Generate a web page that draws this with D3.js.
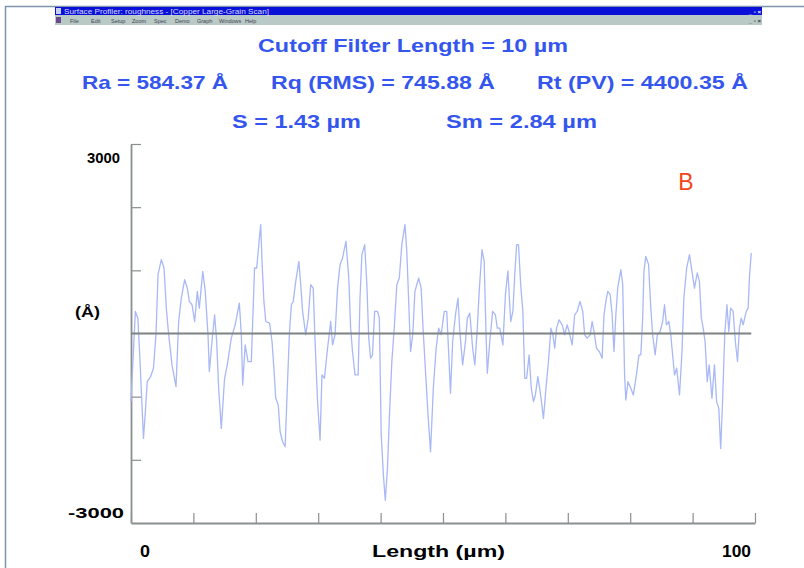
<!DOCTYPE html>
<html>
<head>
<meta charset="utf-8">
<script src="https://cdn.jsdelivr.net/npm/d3@7"></script>
<style>
  body { margin: 0; background: #fff; }
  svg { display: block; font-family: "Liberation Sans", Arial, sans-serif; }
</style>
</head>
<body>
<div id="profile"></div>
<script>
// profile trace, length (µm) and height (Å)
var lengths = [0, 0.7, 1.1, 1.45, 2.0, 2.3, 2.6, 3.15, 3.6, 4.0, 4.33, 4.86, 5.29, 5.7, 6.04, 6.57, 7.21, 7.64, 8.06, 8.6,
    9.03, 9.35, 9.78, 10.2, 10.63, 10.95, 11.5, 11.9, 12.34, 12.55, 12.98, 13.4, 13.73, 14.05, 14.47, 15.0, 15.43, 16.07, 16.7, 17.36,
    17.68, 17.9, 18.3, 18.75, 19.28, 19.8, 20.14, 20.78, 21.0, 21.3, 21.6, 22.2, 22.6, 22.9, 23.2, 23.6, 23.9, 24.3, 24.7, 25.05,
    25.4, 25.7, 26.0, 26.4, 26.9, 27.2, 27.5, 28.0, 28.4, 28.8, 29.2, 29.5, 29.9, 30.3, 30.6, 31.0, 31.5, 32.0, 32.3, 32.7,
    33.1, 33.5, 33.9, 34.45, 34.9, 35.2, 35.5, 35.9, 36.4, 36.7, 37.0, 37.45, 37.8, 38.1, 38.4, 38.7, 39.05, 39.5, 39.8, 40.1,
    40.45, 40.75, 41.1, 41.4, 41.8, 42.15, 42.6, 43.0, 43.4, 43.9, 44.2, 44.5, 44.8, 45.15, 45.5, 45.8, 46.1, 46.5, 46.8, 47.2,
    47.6, 48.0, 48.45, 48.9, 49.3, 49.7, 50.2, 50.6, 50.9, 51.2, 51.55, 52.0, 52.4, 52.7, 53.15, 53.6, 53.9, 54.3, 54.75, 55.1,
    55.5, 55.8, 56.25, 56.6, 56.9, 57.1, 57.5, 57.95, 58.4, 58.7, 59.1, 59.6, 60.0, 60.4, 60.85, 61.2, 61.5, 61.8, 62.1, 62.45,
    62.8, 63.1, 63.4, 63.8, 64.15, 64.5, 64.8, 65.2, 65.65, 66.1, 66.5, 66.9, 67.3, 67.6, 67.9, 68.2, 68.6, 69.1, 69.5, 69.9,
    70.2, 70.7, 71.1, 71.5, 71.95, 72.4, 72.7, 73.1, 73.6, 73.9, 74.2, 74.6, 75.05, 75.5, 75.8, 76.1, 76.4, 76.8, 77.1, 77.4,
    77.7, 78.0, 78.5, 78.8, 79.1, 79.3, 79.65, 80.1, 80.5, 81.0, 81.4, 81.7, 82.0, 82.2, 82.5, 82.95, 83.3, 83.6, 84.0, 84.35,
    84.8, 85.2, 85.5, 85.8, 86.2, 86.5, 86.8, 87.1, 87.45, 87.9, 88.3, 88.6, 89.05, 89.5, 89.9, 90.3, 90.75, 91.1, 91.4, 91.7,
    92.0, 92.35, 92.65, 93.1, 93.5, 93.85, 94.2, 94.5, 94.8, 95.15, 95.5, 95.8, 96.1, 96.5, 96.85, 97.2, 97.5, 97.8, 98.1, 98.6,
    98.9, 99.1, 99.4];
var heights = [-1080, 350, 240, -444, -1661, -1238, -762, -682, -550, -20, 931, 1169, 1037, 349, -20, -497, -841, 190, 561, 852,
    719, 508, 455, 190, 667, 402, 984, 667, -20, -603, -127, 296, -127, -868, -1502, -709, -497, -74, 138, 481,
    -20, -815, -180, -444, -444, 1037, 1037, 1725, 1143, 508, 190, 164, -127, -550, -1026, -1132, -1555, -1714, -1793, -868,
    32, 455, 508, 825, 1143, 772, 349, -20, 243, 772, 719, -127, -1079, -1688, -656, -709, -233, 190, -180, -20,
    719, 1090, 1196, 1460, 878, 85, -286, -656, -656, 561, 1248, 1407, 772, -74, -391, -339, 349, 349, 243, -1608,
    -2243, -2640, -2137, -1344, -444, 32, 772, 878, 1407, 1725, 1301, 508, -286, -20, 667, 772, 878, 719, 85, -603,
    -1291, -1873, -868, -233, 85, -20, 349, 349, -286, -947, -127, 296, 561, 32, -497, -127, 243, 323, -233, -497,
    85, 667, 1328, 1143, -20, -630, -127, 349, 296, 85, 85, -180, 614, 990, 190, 349, 931, 1407, 1407, 772,
    349, -709, -709, -339, -868, -1079, -973, -682, -973, -1344, -868, -444, 85, -20, -233, 85, 217, 138, -20, 138,
    32, -180, 296, 349, 508, 349, -20, -74, -20, 190, 32, -233, -286, -391, 296, 508, 667, 614, 296, -286,
    296, 719, 1010, 772, -656, -1053, -762, -868, -973, -656, -339, -339, 243, 984, 1222, 1090, 402, -20, -339, -20,
    32, 190, 455, 138, 190, -20, -339, -656, -550, -973, -286, 561, 1037, 1248, 984, 719, 958, 825, 243, 85,
    -127, -762, -497, -1026, -497, -1079, -1185, -1820, -1079, -20, 455, 32, 402, 349, -127, -444, 85, 243, 138, 349,
    402, 878, 1275];

var yTicks = [-2000, -1000, 1000, 2000, 3000];
var xTicks = [0, 10, 20, 30, 40, 50, 60, 70, 80, 90, 100];

var header = ["Cutoff Filter Length = 10 µm"];
var statsRow1 = ["Ra = 584.37 Å", "Rq (RMS) = 745.88 Å", "Rt (PV) = 4400.35 Å"];
var statsRow2 = ["S = 1.43 µm", "Sm = 2.84 µm"];
var menuItems = ["File", "Edit", "Setup", "Zoom", "Spec", "Demo", "Graph", "Windows", "Help"];

var svg = d3.select("#profile")
            .append("svg")
            .attr("width", 804)
            .attr("height", 568);

var x = d3.scaleLinear().domain([0, 100]).range([131, 755]);
var y = d3.scaleLinear().domain([-3000, 3000]).range([523, 144]);

// stretched bold text, the source renders its fonts wide
function wideText(px, py, str, size, width, anchor, color) {
    return svg.append("text")
              .attr("x", px).attr("y", py)
              .attr("text-anchor", anchor)
              .attr("font-size", size)
              .attr("font-weight", "bold")
              .attr("fill", color)
              .attr("textLength", width)
              .attr("lengthAdjust", "spacingAndGlyphs")
              .text(str);
}

// window chrome
svg.append("path")
   .attr("d", "M5.5,568 V6.5 H804")
   .attr("fill", "none")
   .attr("stroke", "#7f95ad")
   .attr("stroke-width", 1.5);
svg.append("rect").attr("x", 55).attr("y", 7).attr("width", 707).attr("height", 8).attr("fill", "#0a10d8");
svg.append("rect").attr("x", 55).attr("y", 15).attr("width", 707).attr("height", 10).attr("fill", "#b9c9c6");
svg.append("rect").attr("x", 56).attr("y", 8).attr("width", 5).attr("height", 6).attr("fill", "#c8d0f0");
svg.append("rect").attr("x", 56).attr("y", 17).attr("width", 5).attr("height", 6).attr("fill", "#6a4a8a");
svg.append("text")
   .attr("x", 64).attr("y", 14)
   .attr("font-size", 6.5)
   .attr("fill", "#d8dcff")
   .attr("textLength", 205)
   .attr("lengthAdjust", "spacingAndGlyphs")
   .text("Surface Profiler: roughness - [Copper Large-Grain Scan]");
var menuX = [70, 91, 111, 132, 154, 175, 197, 219, 245];
svg.append("g").selectAll("text")
   .data(menuItems)
   .enter()
   .append("text")
   .attr("x", function(d, i) { return menuX[i]; })
   .attr("y", 23)
   .attr("font-size", 5.5)
   .attr("fill", "#445")
   .text(function(d) { return d; });
[0, 1].forEach(function(r) {
    svg.append("text")
       .attr("x", 761).attr("y", 14 + r * 9)
       .attr("text-anchor", "end")
       .attr("font-size", 6)
       .attr("font-weight", "bold")
       .attr("fill", r ? "#334" : "#fff")
       .text("_ ▫ ×");
});

// header texts
var blue = "#3556ee";
wideText(413, 52, header[0], 19, 310, "middle", blue);
var row1X = [82, 271, 537];
var row1W = [146, 224, 211];
statsRow1.forEach(function(d, i) { wideText(row1X[i], 89, d, 19, row1W[i], "start", blue); });
var row2X = [232, 446];
var row2W = [129, 151];
statsRow2.forEach(function(d, i) { wideText(row2X[i], 128, d, 19, row2W[i], "start", blue); });

// axes
var yAxis = d3.axisRight(y).tickValues(yTicks).tickSize(10).tickSizeOuter(0).tickFormat("");
var xAxis = d3.axisTop(x).tickValues(xTicks).tickSize(10).tickSizeOuter(0).tickFormat("");

var gy = svg.append("g").attr("transform", "translate(" + x(0) + ",0)").call(yAxis);
var gx = svg.append("g").attr("transform", "translate(0," + y(-3000) + ")").call(xAxis);
[gy, gx].forEach(function(g) {
    g.select(".domain").attr("stroke", "#8a8f8f").attr("stroke-width", 1.8);
    g.selectAll(".tick line").attr("stroke", "#8a8f8f").attr("stroke-width", 1.2);
});

// profile line
var line = d3.line()
             .x(function(d) { return x(d[0]); })
             .y(function(d) { return y(d[1]); });
svg.append("path")
   .datum(d3.zip(lengths, heights))
   .attr("d", line)
   .attr("fill", "none")
   .attr("stroke", "#a9b8f6")
   .attr("stroke-width", 1.3)
   .attr("stroke-linejoin", "round");

// mean line
svg.append("line")
   .attr("x1", x(0)).attr("x2", x(99.4))
   .attr("y1", y(0)).attr("y2", y(0))
   .attr("stroke", "#7d8282")
   .attr("stroke-width", 2);

// axis labels
wideText(87, y(3000) + 19, "3000", 15, 33, "start", "#000");
wideText(68, y(-3000) - 5, "-3000", 15, 56, "start", "#000");
wideText(75, 317, "(Å)", 15, 25, "start", "#000");
wideText(140, 557, String(xTicks[0]), 16, 10, "start", "#000");
wideText(722, 557, String(xTicks[xTicks.length - 1]), 16, 29, "start", "#000");
wideText(372, 557, "Length (µm)", 16, 133, "start", "#000");

// panel letter
svg.append("text")
   .attr("x", 686).attr("y", 190)
   .attr("text-anchor", "middle")
   .attr("font-size", 23)
   .attr("fill", "#f2461a")
   .text("B");
</script>
</body>
</html>
